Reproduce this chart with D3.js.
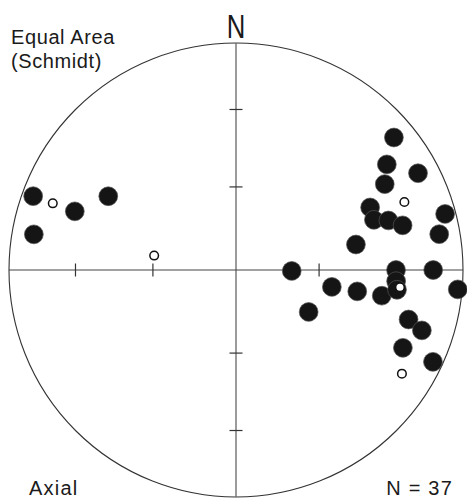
<!DOCTYPE html>
<html>
<head>
<meta charset="utf-8">
<script src="https://cdn.jsdelivr.net/npm/d3@7"></script>
<style>
  html, body { margin: 0; padding: 0; background: #fff; }
  svg { display: block; }
  text { font-family: "Liberation Sans", Arial, sans-serif; fill: #1a1a1a; }
</style>
</head>
<body>
<svg id="chart" width="467" height="499"></svg>
<script>
// Axial data, lower hemisphere: trend (deg, clockwise from N) and plunge (deg)
const filledTrend  = [290, 290, 300, 280, 50, 55, 62, 60, 65, 70, 72, 75, 75, 80, 78,
                      91, 100, 100, 100, 90, 94, 97, 90, 95, 120, 106, 108, 115, 115];
const filledPlunge = [5.5, 25.4, 35.3, 10.5, 10.1, 20, 10.1, 25.3, 35.1, 35.6, 30.1, 25, 5.2, 10, 45.1,
                      70, 54.7, 44.9, 35.1, 30.2, 30, 29.3, 14.2, 2.2, 59.7, 22, 15, 20, 4.8];
const openTrend    = [290, 280, 68, 96, 122];
const openPlunge   = [15.2, 60, 21.1, 28.2, 14.9];
// Reference ticks at angular distance from the centre (deg)
const tickAngles = [30, 60];
const titleLines = ["Equal Area", "(Schmidt)"];
const footLeft = "Axial";
const footRight = "N = 37";
const northLabel = "N";

const svg = d3.select("#chart");
const cx = 236, cy = 270, R = 227;

const x = d3.scaleLinear().domain([-1, 1]).range([cx - R, cx + R]);
const y = d3.scaleLinear().domain([-1, 1]).range([cy + R, cy - R]);
const rad = d => d * Math.PI / 180;
// Equal-area (Schmidt) radial distance for an angle from centre
const eaR = ang => Math.SQRT2 * Math.sin(rad(ang) / 2);
const proj = (t, p) => {
  const r = eaR(90 - p);
  return [x(r * Math.sin(rad(t))), y(r * Math.cos(rad(t)))];
};

// primitive circle
svg.append("circle")
  .attr("cx", x(0)).attr("cy", y(0)).attr("r", x(1) - x(0))
  .attr("fill", "none").attr("stroke", "#333").attr("stroke-width", 1.1);

// cross axes
svg.append("line")
  .attr("x1", x(0)).attr("x2", x(0)).attr("y1", y(1)).attr("y2", y(-1))
  .attr("stroke", "#666").attr("stroke-width", 1.3);
svg.append("line")
  .attr("x1", x(-1)).attr("x2", x(1)).attr("y1", y(0)).attr("y2", y(0))
  .attr("stroke", "#444").attr("stroke-width", 1.2);

// ticks
const tl = 6.5;
tickAngles.forEach(a => {
  const r = eaR(a);
  [1, -1].forEach(s => {
    svg.append("line")
      .attr("x1", x(0) - tl).attr("x2", x(0) + tl)
      .attr("y1", y(s * r)).attr("y2", y(s * r))
      .attr("stroke", "#333").attr("stroke-width", 1.2);
    svg.append("line")
      .attr("y1", y(0) - tl).attr("y2", y(0) + tl)
      .attr("x1", x(s * r)).attr("x2", x(s * r))
      .attr("stroke", "#333").attr("stroke-width", 1.2);
  });
});

// filled points
const filled = filledTrend.map((t, i) => proj(t, filledPlunge[i]));
svg.append("g").selectAll("circle").data(filled).join("circle")
  .attr("cx", d => d[0]).attr("cy", d => d[1]).attr("r", 9.4)
  .attr("fill", "#151515").attr("stroke", "#555").attr("stroke-width", 0.7);

// open points
const open = openTrend.map((t, i) => proj(t, openPlunge[i]));
svg.append("g").selectAll("circle").data(open).join("circle")
  .attr("cx", d => d[0]).attr("cy", d => d[1]).attr("r", 4.3)
  .attr("fill", "#fff").attr("stroke", "#111").attr("stroke-width", 1.5);

// labels
svg.append("text").attr("x", 11).attr("y", 44)
  .attr("font-size", 20).attr("letter-spacing", 0.6).text(titleLines[0]);
svg.append("text").attr("x", 11).attr("y", 68)
  .attr("font-size", 20).attr("letter-spacing", 0.6).text(titleLines[1]);
svg.append("text").attr("x", 29).attr("y", 494.5)
  .attr("font-size", 20).attr("letter-spacing", 1.2).text(footLeft);
svg.append("text").attr("x", 453).attr("y", 494.5).attr("text-anchor", "end")
  .attr("font-size", 20).attr("letter-spacing", 1.2).text(footRight);
svg.append("text")
  .attr("transform", `translate(${x(0)},37.5) scale(0.78,1)`)
  .attr("text-anchor", "middle").attr("font-size", 33).text(northLabel);
</script>
</body>
</html>
